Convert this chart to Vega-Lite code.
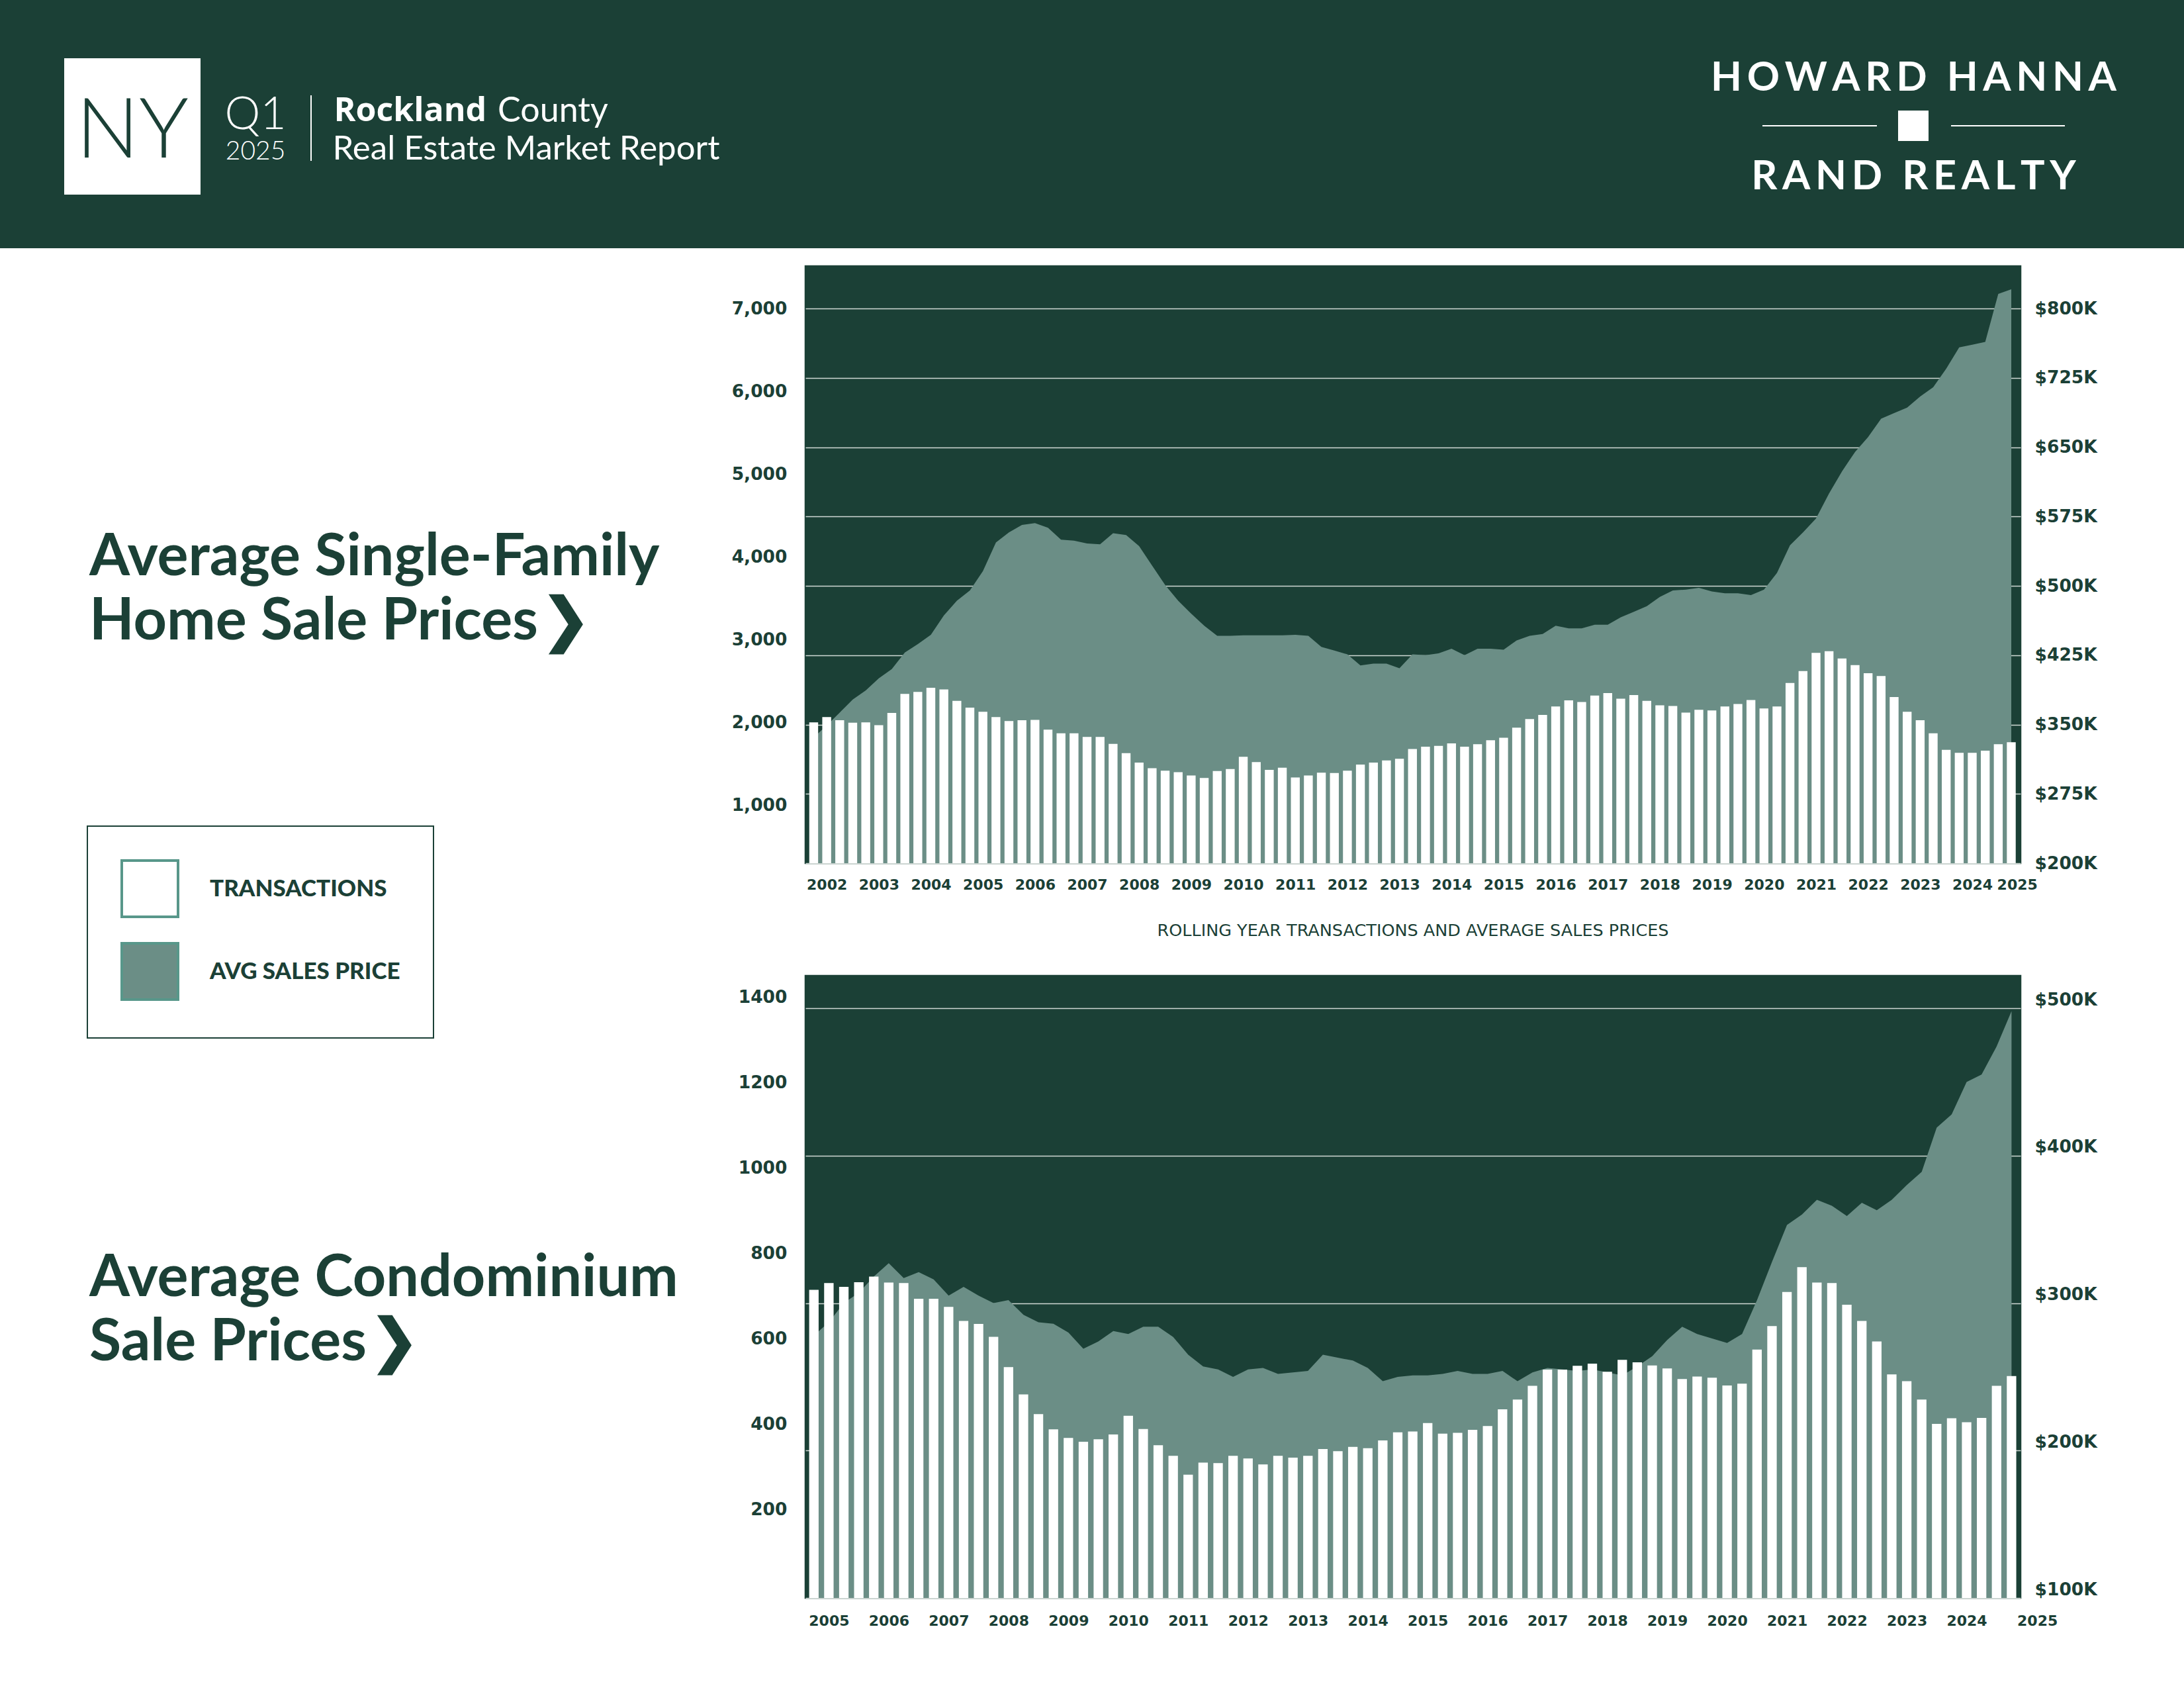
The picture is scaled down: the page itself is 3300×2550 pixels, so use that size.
{
  "$schema": "https://vega.github.io/schema/vega-lite/v6.json",
  "background": "#ffffff",
  "padding": 0,
  "config": {
    "view": {"stroke": null},
    "concat": {"spacing": 0},
    "legend": {
      "orient": "none", "legendX": 132, "legendY": 1248, "direction": "vertical",
      "symbolType": "square", "symbolSize": 7225, "symbolStrokeWidth": 4, "symbolStrokeColor": "#58978a",
      "labelFont": "Lato", "labelFontWeight": 900, "labelFontSize": 35, "labelColor": "#1b4036",
      "labelOffset": 46, "rowPadding": 24, "padding": 50, "strokeColor": "#1b4036", "strokeWidth": 2,
      "labelLimit": 0, "fillColor": "#ffffff"
    }
  },
  "datasets": {
    "none": [],
    "one": [{}],
    "sf": [
      {"period":2001.75,"tx":2006,"price":336000},{"period":2002,"tx":2070,"price":349000},{"period":2002.25,"tx":2031,"price":363000},{"period":2002.5,"tx":2001,"price":377000},
      {"period":2002.75,"tx":2006,"price":387000},{"period":2003,"tx":1972,"price":400000},{"period":2003.25,"tx":2119,"price":410000},{"period":2003.5,"tx":2350,"price":428000},
      {"period":2003.75,"tx":2374,"price":437000},{"period":2004,"tx":2423,"price":447000},{"period":2004.25,"tx":2404,"price":468000},{"period":2004.5,"tx":2266,"price":484000},
      {"period":2004.75,"tx":2183,"price":495000},{"period":2005,"tx":2134,"price":516000},{"period":2005.25,"tx":2070,"price":547000},{"period":2005.5,"tx":2021,"price":558000},
      {"period":2005.75,"tx":2031,"price":566000},{"period":2006,"tx":2036,"price":568000},{"period":2006.25,"tx":1918,"price":563000},{"period":2006.5,"tx":1874,"price":550000},
      {"period":2006.75,"tx":1874,"price":549000},{"period":2007,"tx":1830,"price":546000},{"period":2007.25,"tx":1830,"price":545000},{"period":2007.5,"tx":1746,"price":557000},
      {"period":2007.75,"tx":1633,"price":555000},{"period":2008,"tx":1520,"price":543000},{"period":2008.25,"tx":1452,"price":522000},{"period":2008.5,"tx":1422,"price":501000},
      {"period":2008.75,"tx":1403,"price":484000},{"period":2009,"tx":1363,"price":470000},{"period":2009.25,"tx":1334,"price":457000},{"period":2009.5,"tx":1417,"price":446000},
      {"period":2009.75,"tx":1442,"price":446000},{"period":2010,"tx":1589,"price":446500},{"period":2010.25,"tx":1525,"price":446500},{"period":2010.5,"tx":1432,"price":446500},
      {"period":2010.75,"tx":1457,"price":446500},{"period":2011,"tx":1339,"price":447000},{"period":2011.25,"tx":1363,"price":446000},{"period":2011.5,"tx":1398,"price":434000},
      {"period":2011.75,"tx":1393,"price":430000},{"period":2012,"tx":1422,"price":426000},{"period":2012.25,"tx":1496,"price":414000},{"period":2012.5,"tx":1520,"price":416000},
      {"period":2012.75,"tx":1545,"price":416000},{"period":2013,"tx":1565,"price":411000},{"period":2013.25,"tx":1683,"price":426000},{"period":2013.5,"tx":1712,"price":425000},
      {"period":2013.75,"tx":1722,"price":427000},{"period":2014,"tx":1751,"price":432000},{"period":2014.25,"tx":1712,"price":425000},{"period":2014.5,"tx":1741,"price":432000},
      {"period":2014.75,"tx":1790,"price":432000},{"period":2015,"tx":1820,"price":431000},{"period":2015.25,"tx":1942,"price":441000},{"period":2015.5,"tx":2046,"price":446000},
      {"period":2015.75,"tx":2095,"price":448000},{"period":2016,"tx":2198,"price":457000},{"period":2016.25,"tx":2271,"price":454000},{"period":2016.5,"tx":2252,"price":454000},
      {"period":2016.75,"tx":2330,"price":458000},{"period":2017,"tx":2360,"price":458000},{"period":2017.25,"tx":2291,"price":466000},{"period":2017.5,"tx":2335,"price":472000},
      {"period":2017.75,"tx":2266,"price":478000},{"period":2018,"tx":2212,"price":488000},{"period":2018.25,"tx":2203,"price":495000},{"period":2018.5,"tx":2124,"price":496000},
      {"period":2018.75,"tx":2158,"price":498000},{"period":2019,"tx":2149,"price":494000},{"period":2019.25,"tx":2198,"price":492000},{"period":2019.5,"tx":2227,"price":492000},
      {"period":2019.75,"tx":2276,"price":490000},{"period":2020,"tx":2173,"price":496000},{"period":2020.25,"tx":2198,"price":514000},{"period":2020.5,"tx":2482,"price":544000},
      {"period":2020.75,"tx":2625,"price":558000},{"period":2021,"tx":2845,"price":573000},{"period":2021.25,"tx":2865,"price":600000},{"period":2021.5,"tx":2777,"price":624000},
      {"period":2021.75,"tx":2698,"price":645000},{"period":2022,"tx":2600,"price":661000},{"period":2022.25,"tx":2566,"price":681000},{"period":2022.5,"tx":2311,"price":687000},
      {"period":2022.75,"tx":2134,"price":693000},{"period":2023,"tx":2031,"price":705000},{"period":2023.25,"tx":1874,"price":715000},{"period":2023.5,"tx":1673,"price":735000},
      {"period":2023.75,"tx":1638,"price":758000},{"period":2024,"tx":1638,"price":761000},{"period":2024.25,"tx":1663,"price":764000},{"period":2024.5,"tx":1741,"price":816000},
      {"period":2024.75,"tx":1766,"price":821000}
    ],
    "condo": [
      {"period":2004.75,"tx":722,"price":278000},{"period":2005,"tx":738,"price":287000},{"period":2005.25,"tx":729,"price":300000},{"period":2005.5,"tx":740,"price":307000},
      {"period":2005.75,"tx":753,"price":318000},{"period":2006,"tx":739,"price":327000},{"period":2006.25,"tx":738,"price":317000},{"period":2006.5,"tx":701,"price":321000},
      {"period":2006.75,"tx":701,"price":316000},{"period":2007,"tx":682,"price":305000},{"period":2007.25,"tx":649,"price":311000},{"period":2007.5,"tx":642,"price":305000},
      {"period":2007.75,"tx":612,"price":300000},{"period":2008,"tx":541,"price":302000},{"period":2008.25,"tx":477,"price":292000},{"period":2008.5,"tx":431,"price":287000},
      {"period":2008.75,"tx":395,"price":286000},{"period":2009,"tx":375,"price":280000},{"period":2009.25,"tx":366,"price":269000},{"period":2009.5,"tx":372,"price":274000},
      {"period":2009.75,"tx":383,"price":281000},{"period":2010,"tx":427,"price":279000},{"period":2010.25,"tx":396,"price":284000},{"period":2010.5,"tx":358,"price":284000},
      {"period":2010.75,"tx":333,"price":277000},{"period":2011,"tx":289,"price":265000},{"period":2011.25,"tx":317,"price":257000},{"period":2011.5,"tx":316,"price":255000},
      {"period":2011.75,"tx":333,"price":250000},{"period":2012,"tx":327,"price":255000},{"period":2012.25,"tx":313,"price":256000},{"period":2012.5,"tx":333,"price":252000},
      {"period":2012.75,"tx":329,"price":253000},{"period":2013,"tx":333,"price":254000},{"period":2013.25,"tx":349,"price":265000},{"period":2013.5,"tx":344,"price":263000},
      {"period":2013.75,"tx":354,"price":261000},{"period":2014,"tx":351,"price":256000},{"period":2014.25,"tx":369,"price":247000},{"period":2014.5,"tx":388,"price":250000},
      {"period":2014.75,"tx":390,"price":251000},{"period":2015,"tx":410,"price":251000},{"period":2015.25,"tx":385,"price":252000},{"period":2015.5,"tx":387,"price":254000},
      {"period":2015.75,"tx":394,"price":252000},{"period":2016,"tx":403,"price":252000},{"period":2016.25,"tx":442,"price":254000},{"period":2016.5,"tx":465,"price":247000},
      {"period":2016.75,"tx":497,"price":253000},{"period":2017,"tx":535,"price":256000},{"period":2017.25,"tx":535,"price":255000},{"period":2017.5,"tx":544,"price":254000},
      {"period":2017.75,"tx":549,"price":255000},{"period":2018,"tx":530,"price":253000},{"period":2018.25,"tx":558,"price":251000},{"period":2018.5,"tx":552,"price":257000},
      {"period":2018.75,"tx":545,"price":264000},{"period":2019,"tx":538,"price":275000},{"period":2019.25,"tx":513,"price":284000},{"period":2019.5,"tx":519,"price":279000},
      {"period":2019.75,"tx":516,"price":276000},{"period":2020,"tx":498,"price":273000},{"period":2020.25,"tx":502,"price":279000},{"period":2020.5,"tx":582,"price":302000},
      {"period":2020.75,"tx":637,"price":328000},{"period":2021,"tx":717,"price":353000},{"period":2021.25,"tx":775,"price":360000},{"period":2021.5,"tx":739,"price":370000},
      {"period":2021.75,"tx":738,"price":366000},{"period":2022,"tx":687,"price":359000},{"period":2022.25,"tx":649,"price":368000},{"period":2022.5,"tx":601,"price":363000},
      {"period":2022.75,"tx":524,"price":370000},{"period":2023,"tx":508,"price":380000},{"period":2023.25,"tx":465,"price":389000},{"period":2023.5,"tx":408,"price":419000},
      {"period":2023.75,"tx":421,"price":428000},{"period":2024,"tx":412,"price":450000},{"period":2024.25,"tx":422,"price":455000},{"period":2024.5,"tx":497,"price":474000},
      {"period":2024.75,"tx":520,"price":498000}
    ]
  },
  "vconcat": [
    {
      "hconcat": [
        {"width": 97, "height": 375, "data": {"name": "none"}, "mark": "rect", "view": {"fill": "#1b4036"}},
        {"bounds": "flush", "vconcat": [
          {"width": 206, "height": 88, "data": {"name": "none"}, "mark": "rect", "view": {"fill": "#1b4036"}},
          {"width": 206, "height": 206, "data": {"name": "one"}, "view": {"fill": "#ffffff"},
           "mark": {"type": "text", "text": "NY", "font": "Lato", "fontWeight": 300, "fontSize": 126, "color": "#1b4036", "baseline": "middle", "dy": 9}},
          {"width": 206, "height": 81, "data": {"name": "none"}, "mark": "rect", "view": {"fill": "#1b4036"}}
        ]},
        {"bounds": "flush", "vconcat": [
          {"width": 166, "height": 140, "data": {"name": "none"}, "mark": "rect", "view": {"fill": "#1b4036"}},
          {"width": 166, "height": 70, "data": {"name": "one"}, "view": {"fill": "#1b4036"},
           "mark": {"type": "text", "text": "Q1", "font": "Lato", "fontWeight": 300, "fontSize": 68, "color": "#ffffff", "baseline": "middle"}},
          {"width": 166, "height": 37, "data": {"name": "one"}, "view": {"fill": "#1b4036"},
           "mark": {"type": "text", "text": "2025", "font": "Lato", "fontWeight": 300, "fontSize": 39, "color": "#ffffff", "baseline": "middle"}},
          {"width": 166, "height": 128, "data": {"name": "none"}, "mark": "rect", "view": {"fill": "#1b4036"}}
        ]},
        {"bounds": "flush", "vconcat": [
          {"width": 2, "height": 144, "data": {"name": "none"}, "mark": "rect", "view": {"fill": "#1b4036"}},
          {"width": 2, "height": 99, "data": {"name": "none"}, "mark": "rect", "view": {"fill": "#ffffff"}},
          {"width": 2, "height": 132, "data": {"name": "none"}, "mark": "rect", "view": {"fill": "#1b4036"}}
        ]},
        {"bounds": "flush", "vconcat": [
          {"width": 648, "height": 139, "data": {"name": "none"}, "mark": "rect", "view": {"fill": "#1b4036"}},
          {"width": 648, "height": 58, "data": {"name": "one"}, "view": {"fill": "#1b4036"},
           "layer": [
             {"mark": {"type": "text", "text": "Rockland", "font": "Open Sans", "fontWeight": 700, "fontSize": 50, "color": "#ffffff", "baseline": "middle", "align": "left", "dx": -290.5}},
             {"mark": {"type": "text", "text": "County", "font": "Lato", "fontWeight": 400, "fontSize": 52, "color": "#ffffff", "baseline": "middle", "align": "left", "dx": -43}}
           ]},
          {"width": 648, "height": 57, "data": {"name": "one"}, "view": {"fill": "#1b4036"},
           "mark": {"type": "text", "text": "Real Estate Market Report", "font": "Lato", "fontWeight": 400, "fontSize": 51, "color": "#ffffff", "baseline": "middle"}},
          {"width": 648, "height": 121, "data": {"name": "none"}, "mark": "rect", "view": {"fill": "#1b4036"}}
        ]},
        {"width": 1421, "height": 375, "data": {"name": "none"}, "mark": "rect", "view": {"fill": "#1b4036"}},
        {"vconcat": [
          {"width": 703, "height": 80, "data": {"name": "none"}, "mark": "rect", "view": {"fill": "#1b4036"}},
          {"width": 703, "height": 78, "data": {"name": "one"}, "view": {"fill": "#1b4036"},
           "mark": {"type": "text", "text": "H\u2009O\u2009W\u2009A\u2009R\u2009D\u2009 \u2009H\u2009A\u2009N\u2009N\u2009A", "font": "Lato", "fontWeight": 700, "fontSize": 61, "color": "#ffffff", "baseline": "middle"}},
          {"width": 703, "height": 9, "data": {"name": "none"}, "mark": "rect", "view": {"fill": "#1b4036"}},
          {"hconcat": [
            {"width": 123, "height": 46, "data": {"name": "none"}, "mark": "rect", "view": {"fill": "#1b4036"}},
            {"bounds": "flush", "vconcat": [
              {"width": 173, "height": 22, "data": {"name": "none"}, "mark": "rect", "view": {"fill": "#1b4036"}},
              {"width": 173, "height": 2, "data": {"name": "none"}, "mark": "rect", "view": {"fill": "#ffffff"}},
              {"width": 173, "height": 22, "data": {"name": "none"}, "mark": "rect", "view": {"fill": "#1b4036"}}
            ]},
            {"width": 32, "height": 46, "data": {"name": "none"}, "mark": "rect", "view": {"fill": "#1b4036"}},
            {"width": 46, "height": 46, "data": {"name": "none"}, "mark": "rect", "view": {"fill": "#ffffff"}},
            {"width": 34, "height": 46, "data": {"name": "none"}, "mark": "rect", "view": {"fill": "#1b4036"}},
            {"bounds": "flush", "vconcat": [
              {"width": 172, "height": 22, "data": {"name": "none"}, "mark": "rect", "view": {"fill": "#1b4036"}},
              {"width": 172, "height": 2, "data": {"name": "none"}, "mark": "rect", "view": {"fill": "#ffffff"}},
              {"width": 172, "height": 22, "data": {"name": "none"}, "mark": "rect", "view": {"fill": "#1b4036"}}
            ]},
            {"width": 123, "height": 46, "data": {"name": "none"}, "mark": "rect", "view": {"fill": "#1b4036"}}
          ]},
          {"width": 703, "height": 110, "data": {"name": "one"}, "view": {"fill": "#1b4036"},
           "mark": {"type": "text", "text": "R\u2009A\u2009N\u2009D\u2009 \u2009R\u2009E\u2009A\u2009L\u2009T\u2009Y", "font": "Lato", "fontWeight": 700, "fontSize": 61, "color": "#ffffff", "baseline": "middle"}},
          {"width": 703, "height": 52, "data": {"name": "none"}, "mark": "rect", "view": {"fill": "#1b4036"}}
        ]},
        {"width": 57, "height": 375, "data": {"name": "none"}, "mark": "rect", "view": {"fill": "#1b4036"}}
      ]
    },
    {
      "hconcat": [
        {"width": 135, "height": 2175, "data": {"name": "none"}, "mark": "rect", "view": {"fill": "transparent"}},
        {"bounds": "flush", "vconcat": [
          {"width": 968, "height": 495, "data": {"name": "none"}, "mark": "rect", "view": {"fill": "transparent"}},
          {"width": 968, "height": 1089, "data": {"name": "none"}, "mark": "rect", "view": {"fill": "transparent"},
           "title": {"text": ["Average Single-Family", "Home Sale Prices\u200a❯"], "anchor": "start", "frame": "group", "orient": "top", "offset": -184, "baseline": "alphabetic", "lineHeight": 96.6, "font": "Lato", "fontSize": 88, "fontWeight": 700, "color": "#1b4036"}},
          {"width": 968, "height": 591, "data": {"name": "none"}, "mark": "rect", "view": {"fill": "transparent"},
           "title": {"text": ["Average Condominium", "Sale Prices\u200a❯"], "anchor": "start", "frame": "group", "orient": "top", "offset": -184, "baseline": "alphabetic", "lineHeight": 96.6, "font": "Lato", "fontSize": 88, "fontWeight": 700, "color": "#1b4036"}}
        ]},
        {"bounds": "flush", "vconcat": [
          {"width": 1836, "height": 27, "data": {"name": "none"}, "mark": "rect", "view": {"fill": "transparent"}},
          {
            "width": 1836, "height": 902,
            "data": {"name": "sf"},
            "view": {"fill": "#1b4036", "stroke": "#1b4036", "strokeWidth": 2.5},
            "layer": [
              {
                "mark": {"type": "area", "clip": true},
                "encoding": {
                  "x": {"field": "period", "type": "quantitative",
                        "scale": {"domain": [2001.655, 2024.864], "nice": false, "zero": false},
                        "axis": {"values": [2002,2003,2004,2005,2006,2007,2008,2009,2010,2011,2012,2013,2014,2015,2016,2017,2018,2019,2020,2021,2022,2023,2024,2024.86],
                                 "labelExpr": "format(round(datum.value), 'd')", "title": null, "grid": false, "ticks": false, "domain": false,
                                 "labelFont": "DejaVu Sans", "labelFontWeight": "bold", "labelFontSize": 22, "labelColor": "#1b4036",
                                 "labelPadding": 22, "labelFlush": false, "labelOverlap": false, "labelBound": false}},
                  "y": {"field": "price", "type": "quantitative",
                        "scale": {"domain": [200000, 846000], "nice": false, "zero": false},
                        "axis": {"orient": "right", "values": [200000,275000,350000,425000,500000,575000,650000,725000,800000],
                                 "labelExpr": "'$' + (datum.value/1000) + 'K'", "title": null,
                                 "grid": true, "gridColor": "#cfd8d4", "gridWidth": 1.5, "ticks": false, "domain": false,
                                 "labelFont": "DejaVu Sans", "labelFontWeight": "bold", "labelFontSize": 26.5, "labelColor": "#1b4036",
                                 "labelPadding": 21, "labelOverlap": false, "labelBound": false}},
                  "fill": {"datum": "AVG SALES PRICE", "type": "nominal",
                           "scale": {"domain": ["TRANSACTIONS", "AVG SALES PRICE"], "range": ["#ffffff", "#6b8e86"]},
                           "legend": {"title": null}}
                }
              },
              {
                "mark": {"type": "bar", "width": 13.4, "clip": true},
                "encoding": {
                  "x": {"field": "period", "type": "quantitative"},
                  "y": {"field": "tx", "type": "quantitative",
                        "scale": {"domain": [304, 7517], "nice": false, "zero": false},
                        "axis": {"orient": "left", "values": [1000,2000,3000,4000,5000,6000,7000], "format": ",d", "title": null,
                                 "grid": false, "ticks": false, "domain": false,
                                 "labelFont": "DejaVu Sans", "labelFontWeight": "bold", "labelFontSize": 26.5, "labelColor": "#1b4036",
                                 "labelPadding": 28, "labelOverlap": false, "labelBound": false}},
                  "fill": {"datum": "TRANSACTIONS", "type": "nominal",
                           "scale": {"domain": ["TRANSACTIONS", "AVG SALES PRICE"], "range": ["#ffffff", "#6b8e86"]},
                           "legend": {"title": null}}
                }
              }
            ],
            "resolve": {"scale": {"y": "independent"}}
          },
          {"width": 1836, "height": 70, "data": {"name": "none"}, "mark": "rect", "view": {"fill": "transparent"}},
          {"width": 1836, "height": 64, "data": {"name": "one"}, "view": {"fill": "transparent"},
           "mark": {"type": "text", "text": "ROLLING YEAR TRANSACTIONS AND AVERAGE SALES PRICES", "font": "DejaVu Sans", "fontSize": 25.5, "color": "#1b4036", "baseline": "middle"}},
          {"width": 1836, "height": 36, "data": {"name": "none"}, "mark": "rect", "view": {"fill": "transparent"}},
          {
            "width": 1836, "height": 940,
            "data": {"name": "condo"},
            "view": {"fill": "#1b4036", "stroke": "#1b4036", "strokeWidth": 2.5},
            "layer": [
              {
                "mark": {"type": "area", "clip": true},
                "encoding": {
                  "x": {"field": "period", "type": "quantitative",
                        "scale": {"domain": [2004.664, 2024.845], "nice": false, "zero": false},
                        "axis": {"values": [2005,2006,2007,2008,2009,2010,2011,2012,2013,2014,2015,2016,2017,2018,2019,2020,2021,2022,2023,2024,2024.84],
                                 "labelExpr": "format(round(datum.value), 'd')", "title": null, "grid": false, "ticks": false, "domain": false,
                                 "labelAlign": {"condition": {"test": "datum.value > 2024.5", "value": "left"}, "value": "center"},
                                 "labelFont": "DejaVu Sans", "labelFontWeight": "bold", "labelFontSize": 22, "labelColor": "#1b4036",
                                 "labelPadding": 24, "labelFlush": false, "labelOverlap": false, "labelBound": false}},
                  "y": {"field": "price", "type": "quantitative",
                        "scale": {"domain": [100000, 522000], "nice": false, "zero": false},
                        "axis": {"orient": "right", "values": [100000,200000,300000,400000,500000],
                                 "labelExpr": "'$' + (datum.value/1000) + 'K'", "title": null,
                                 "grid": true, "gridColor": "#cfd8d4", "gridWidth": 1.5, "ticks": false, "domain": false,
                                 "labelFont": "DejaVu Sans", "labelFontWeight": "bold", "labelFontSize": 26.5, "labelColor": "#1b4036",
                                 "labelPadding": 21, "labelOffset": -13, "labelOverlap": false, "labelBound": false}},
                  "fill": {"datum": "AVG SALES PRICE", "type": "nominal",
                           "scale": {"domain": ["TRANSACTIONS", "AVG SALES PRICE"], "range": ["#ffffff", "#6b8e86"]},
                           "legend": {"title": null}}
                }
              },
              {
                "mark": {"type": "bar", "width": 14.3, "clip": true},
                "encoding": {
                  "x": {"field": "period", "type": "quantitative"},
                  "y": {"field": "tx", "type": "quantitative",
                        "scale": {"domain": [0, 1458], "nice": false, "zero": false},
                        "axis": {"orient": "left", "values": [200,400,600,800,1000,1200,1400], "format": "d", "title": null,
                                 "grid": false, "ticks": false, "domain": false,
                                 "labelFont": "DejaVu Sans", "labelFontWeight": "bold", "labelFontSize": 26.5, "labelColor": "#1b4036",
                                 "labelPadding": 28, "labelOffset": -5, "labelOverlap": false, "labelBound": false}},
                  "fill": {"datum": "TRANSACTIONS", "type": "nominal",
                           "scale": {"domain": ["TRANSACTIONS", "AVG SALES PRICE"], "range": ["#ffffff", "#6b8e86"]},
                           "legend": {"title": null}}
                }
              }
            ],
            "resolve": {"scale": {"y": "independent"}}
          },
          {"width": 1836, "height": 136, "data": {"name": "none"}, "mark": "rect", "view": {"fill": "transparent"}}
        ]}
      ]
    }
  ]
}
